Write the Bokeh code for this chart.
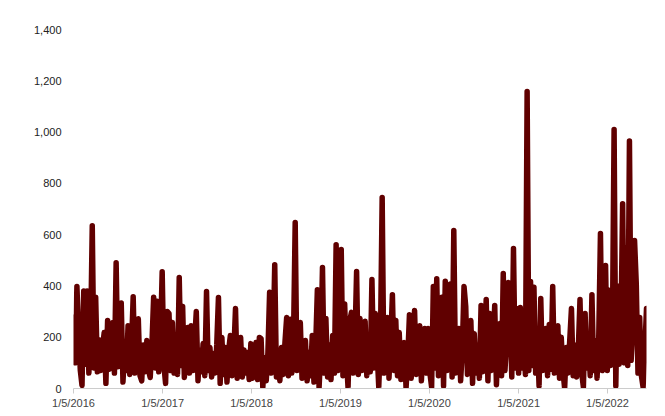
import pandas as pd
from bokeh.plotting import figure
from bokeh.models import Range1d, FixedTicker, NumeralTickFormatter, ColumnDataSource
from bokeh.embed import file_html
from bokeh.resources import INLINE

# weekly values
start_date = "2016-01-05"
v2016 = [278, 100, 398, 215, 70, 12, 380, 95, 380, 60, 190, 635, 80, 356, 65, 190,
         70, 160, 218, 20, 265, 75, 170, 257, 60, 490, 85, 180, 333, 25, 150, 70,
         245, 55, 160, 358, 60, 200, 272, 50, 30, 170, 65, 187, 70, 43, 175, 356,
         80, 340, 65, 190]
v2017 = [455, 90, 20, 300, 292, 70, 257, 60, 180, 55, 433, 90, 320, 43, 190, 238,
         60, 245, 70, 180, 300, 30, 150, 65, 175, 50, 378, 70, 160, 45, 136, 60,
         170, 355, 20, 199, 55, 160, 25, 150, 207, 50, 140, 312, 40, 165, 199, 45,
         150, 60, 140, 35]
v2018 = [175, 40, 130, 179, 35, 199, 195, 5, 120, 30, 140, 375, 60, 150, 483, 45,
         130, 30, 160, 55, 180, 277, 50, 270, 60, 190, 647, 70, 165, 257, 40, 150,
         187, 30, 140, 50, 207, 25, 160, 385, 2, 150, 472, 60, 273, 45, 170, 35,
         207, 60, 561, 70]
v2019 = [90, 542, 50, 330, 120, 3, 265, 297, 60, 170, 456, 55, 273, 70, 180, 262,
         50, 200, 65, 425, 80, 292, 150, 5, 190, 745, 60, 200, 277, 40, 180, 366,
         70, 265, 50, 218, 35, 140, 179, 2, 120, 288, 40, 160, 304, 55, 150, 245,
         30, 170, 234, 60]
v2020 = [234, 60, 5, 398, 80, 428, 50, 190, 356, 10, 418, 70, 160, 408, 45, 616,
         60, 170, 234, 30, 150, 398, 320, 55, 140, 265, 20, 214, 60, 170, 40, 324,
         65, 150, 347, 30, 292, 70, 160, 324, 15, 180, 253, 50, 448, 70, 190, 413,
         304, 45, 546, 80]
v2021 = [312, 60, 316, 80, 180, 55, 1158, 70, 417, 90, 395, 60, 199, 10, 351, 70,
         180, 234, 50, 250, 75, 398, 60, 170, 245, 40, 200, 70, 0, 160, 60, 190,
         312, 50, 170, 45, 150, 347, 60, 5, 292, 80, 170, 50, 366, 70, 187, 40,
         200, 604, 70, 210]
v2022 = [480, 70, 383, 90, 210, 1010, 10, 400, 95, 230, 720, 100, 550, 90, 965, 110,
         240, 577, 408, 60, 277, 50, 5, 150, 312]

tick_dates = ["2016-01-05", "2017-01-05", "2018-01-05", "2019-01-05",
              "2020-01-05", "2021-01-05", "2022-01-05"]
tick_labels = ["1/5/2016", "1/5/2017", "1/5/2018", "1/5/2019",
               "1/5/2020", "1/5/2021", "1/5/2022"]
y_ticks = [0, 200, 400, 600, 800, 1000, 1200, 1400]

values = v2016 + v2017 + v2018 + v2019 + v2020 + v2021 + v2022
dates = pd.date_range(start_date, periods=len(values), freq="7D")
src = ColumnDataSource(dict(date=dates, value=values))

tick_ms = [float(pd.Timestamp(d).value // 10**6) for d in tick_dates]

p = figure(frame_width=573, frame_height=359, x_axis_type="datetime",
           output_backend="svg", toolbar_location=None,
           min_border_left=73, min_border_top=29, min_border_right=3, min_border_bottom=0,
           x_range=Range1d(dates[0], dates[-1]), y_range=Range1d(0, 1400))

p.line(x="date", y="value", source=src, line_color="#600000", line_width=5.5,
       line_join="round", line_cap="round")

p.xgrid.grid_line_color = None
p.ygrid.grid_line_color = None
p.outline_line_color = None
p.background_fill_color = "white"
p.border_fill_color = "white"

xa = p.xaxis[0]
xa.ticker = FixedTicker(ticks=tick_ms)
xa.major_label_overrides = {t: lab for t, lab in zip(tick_ms, tick_labels)}
xa.axis_line_color = "#cccccc"
xa.major_tick_line_color = "#cccccc"
xa.major_tick_out = 5
xa.major_tick_in = 0
xa.minor_tick_line_color = None
xa.major_label_standoff = 3
xa.major_label_text_font = "Liberation Sans"
xa.major_label_text_font_size = "11px"
xa.major_label_text_color = "#444444"

ya = p.yaxis[0]
ya.ticker = FixedTicker(ticks=y_ticks)
ya.formatter = NumeralTickFormatter(format="0,0")
ya.axis_line_color = None
ya.major_tick_line_color = None
ya.minor_tick_line_color = None
ya.major_tick_out = 0
ya.major_tick_in = 0
ya.major_label_standoff = 12
ya.major_label_text_font = "Liberation Sans"
ya.major_label_text_font_size = "11px"
ya.major_label_text_color = "#222222"

open("out.html", "w").write(file_html(p, INLINE))
